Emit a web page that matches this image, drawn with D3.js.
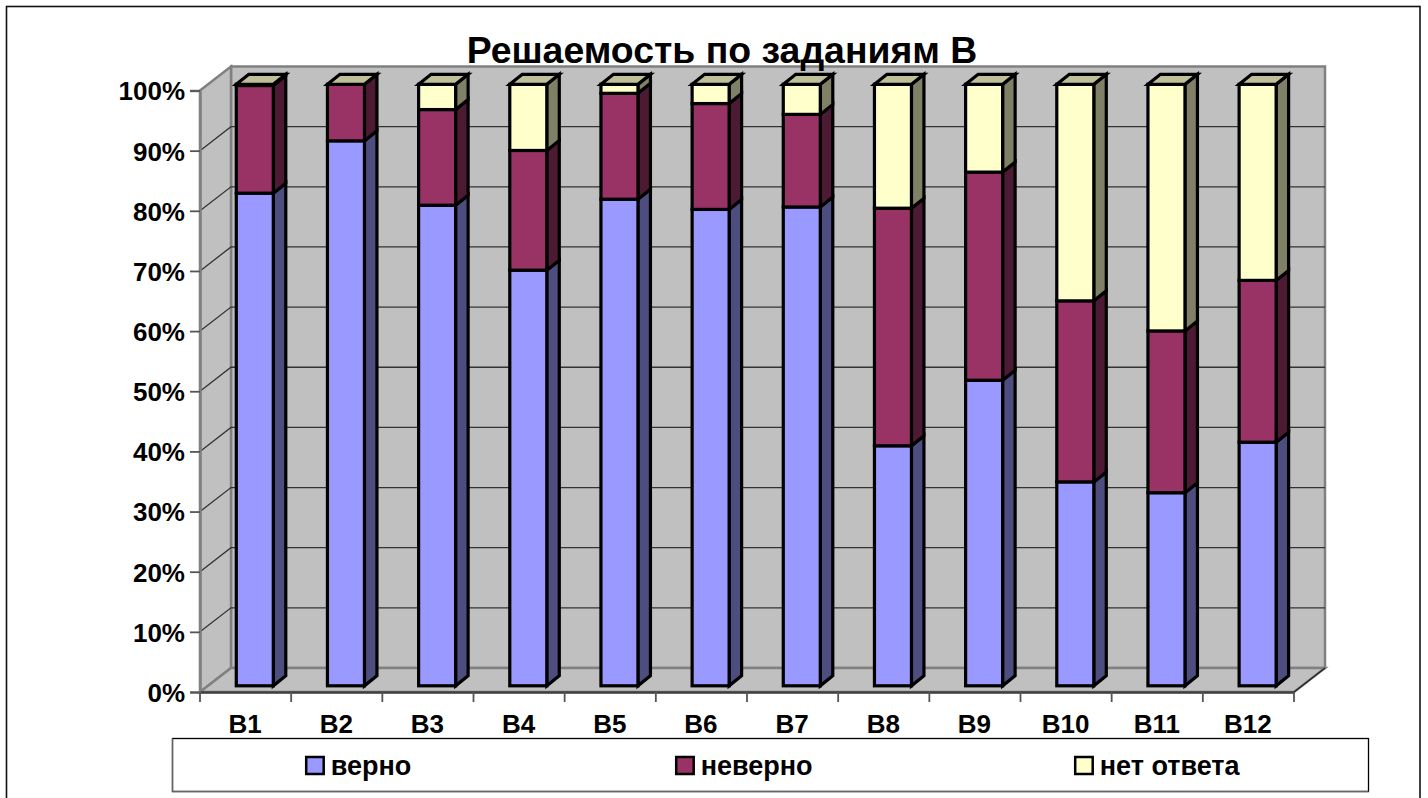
<!DOCTYPE html>
<html>
<head>
<meta charset="utf-8">
<title>Решаемость по заданиям В</title>
<script src="https://d3js.org/d3.v7.min.js"></script>
<style>
	html, body { margin: 0; padding: 0; background: white; overflow: hidden; }
	svg { display: block; }
	text { font-family: "Liberation Sans", Arial, sans-serif; font-weight: bold; fill: black; }
	.axis path { stroke: #808080; stroke-width: 2.5px; }
	.axis line { stroke: #555; stroke-width: 1.8px; }
</style>
</head>
<body>
<script>
// values, percent of answers
var titleText = "Решаемость по заданиям В";
var tasks = ["B1", "B2", "B3", "B4", "B5", "B6", "B7", "B8", "B9", "B10", "B11", "B12"];
var seriesNames = ["верно", "неверно", "нет ответа"];
var correct = [81.9, 90.6, 79.9, 69.1, 80.9, 79.2, 79.6, 39.9, 50.8, 33.9, 32.1, 40.5];
var wrong = [17.9, 9.4, 15.9, 19.9, 17.6, 17.6, 15.4, 39.5, 34.6, 30.1, 26.9, 26.9];
var noAnswer = [0.2, 0, 4.2, 11.0, 1.5, 3.2, 5.0, 20.6, 14.6, 36.0, 41.0, 32.6];
var yTicks = [0, 0.1, 0.2, 0.3, 0.4, 0.5, 0.6, 0.7, 0.8, 0.9, 1];

var front = ["#9999FF", "#993366", "#FFFFCC"];
var side = ["#4D4D80", "#4D1A33", "#808066"];
var topFace = ["#BFBFD9", "#C09AAA", "#BFBF99"];

var plot = { left: 200, right: 1294, top: 90.5, bottom: 692 };
var wall = { dx: 31, dy: -24 };	// back wall offset
var bar = { dx: 12.5, dy: -10, wt: 37, shiftX: 9.2, shiftY: -6.2 };

var svg = d3.select("body").append("svg").attr("width", 1428).attr("height", 798);

// outer frame
svg.append("rect").attr("x", 6.5).attr("y", 6.5).attr("width", 1413.5).attr("height", 800)
	.attr("fill", "white").attr("stroke", "#111").attr("stroke-width", 1.6);

var xscale = d3.scaleBand().domain(tasks).range([plot.left, plot.right]);
var yscale = d3.scaleLinear().domain([0, 1]).range([plot.bottom, plot.top]);

// walls and floor
function poly(pts) { return pts.map(function (p) { return p.join(","); }).join(" "); }

var L = plot.left, R = plot.right, T = plot.top, B = plot.bottom;
svg.append("polygon").attr("fill", "#C0C0C0").attr("stroke", "#808080").attr("stroke-width", 2.5)
	.attr("points", poly([[L + wall.dx, T + wall.dy], [R + wall.dx, T + wall.dy], [R + wall.dx, B + wall.dy], [L + wall.dx, B + wall.dy]]));
svg.append("polygon").attr("fill", "#C0C0C0").attr("stroke", "#808080").attr("stroke-width", 2.5)
	.attr("points", poly([[L, T], [L + wall.dx, T + wall.dy], [L + wall.dx, B + wall.dy], [L, B]]));
svg.append("polygon").attr("fill", "#C0C0C0").attr("stroke", "#808080").attr("stroke-width", 2.5)
	.attr("points", poly([[L, B], [L + wall.dx, B + wall.dy], [R + wall.dx, B + wall.dy], [R, B]]));
svg.append("line").attr("x1", R).attr("y1", B).attr("x2", R + wall.dx).attr("y2", B + wall.dy)
	.attr("stroke", "#222").attr("stroke-width", 1.3);

// gridlines on left and back wall
var gridTicks = yTicks.filter(function (d) { return d > 0 && d < 1; });
var grid = svg.append("g").attr("fill", "none").attr("stroke", "#333").attr("stroke-width", 1.3);
gridTicks.forEach(function (d) {
	var y = yscale(d);
	grid.append("polyline").attr("points", poly([[L, y], [L + wall.dx, y + wall.dy], [R + wall.dx, y + wall.dy]]));
});

// stacked bars
var rows = tasks.map(function (t, i) {
	return { task: t, "верно": correct[i], "неверно": wrong[i], "нет ответа": noAnswer[i] };
});
var stacked = d3.stack().keys(seriesNames).offset(d3.stackOffsetExpand)(rows);

var barG = svg.append("g").attr("stroke", "black").attr("stroke-width", 3.2).attr("stroke-linejoin", "miter");

tasks.forEach(function (t, i) {
	var x0 = xscale(t) + xscale.bandwidth() / 2 - bar.wt / 2 + bar.shiftX;
	var x1 = x0 + bar.wt;
	var oneBar = barG.append("g").attr("class", "bar");
	stacked.forEach(function (s, k) {
		var y0 = yscale(s[i][0]) + bar.shiftY;
		var y1 = yscale(s[i][1]) + bar.shiftY;
		if (y0 - y1 < 0.01) return;
		oneBar.append("polygon").attr("fill", side[k])
			.attr("points", poly([[x1, y1], [x1 + bar.dx, y1 + bar.dy], [x1 + bar.dx, y0 + bar.dy], [x1, y0]]));
	});
	stacked.forEach(function (s, k) {
		var y0 = yscale(s[i][0]) + bar.shiftY;
		var y1 = yscale(s[i][1]) + bar.shiftY;
		if (y0 - y1 < 0.01) return;
		oneBar.append("rect").attr("x", x0).attr("y", y1).attr("width", bar.wt).attr("height", y0 - y1)
			.attr("fill", front[k]);
	});
	// lid takes the colour of the top series
	var yTop = yscale(1) + bar.shiftY;
	oneBar.append("polygon").attr("fill", topFace[2])
		.attr("points", poly([[x0, yTop], [x0 + bar.dx, yTop + bar.dy], [x1 + bar.dx, yTop + bar.dy], [x1, yTop]]));
});

// axes
var yAxis = d3.axisLeft(yscale).tickValues(yTicks).tickFormat(d3.format(".0%")).tickSizeOuter(0).tickSize(10).tickPadding(5);
var gy = svg.append("g").attr("class", "axis").attr("transform", "translate(" + L + ",0)").call(yAxis);
gy.selectAll("text").style("font-size", "26px").attr("dy", "0.36em");

var xAxis = d3.axisBottom(xscale).tickSize(0).tickPadding(23);
var gx = svg.append("g").attr("class", "axis").attr("transform", "translate(0," + B + ")").call(xAxis);
gx.select("path").style("stroke", "#404040");
gx.selectAll("text").style("font-size", "26px").attr("dx", "-0.5px");
// category separators sit between bands
gx.selectAll(".sep").data(tasks.concat(["end"])).enter().append("line").attr("class", "sep")
	.attr("x1", function (d, i) { return L + i * xscale.step(); })
	.attr("x2", function (d, i) { return L + i * xscale.step(); })
	.attr("y1", 0).attr("y2", 10);

// title
svg.append("text").attr("x", 722).attr("y", 63).attr("text-anchor", "middle")
	.style("font-size", "37.4px").text(titleText);

// legend
svg.append("rect").attr("x", 172.5).attr("y", 738.5).attr("width", 1196).attr("height", 53)
	.attr("fill", "white").attr("stroke", "black").attr("stroke-width", 1.3);
svg.append("polyline").attr("fill", "none").attr("stroke", "#666").attr("stroke-width", 1.4)
	.attr("points", poly([[172.5, 738.5], [172.5, 791.5], [1368.5, 791.5]]));
var legendX = [306.2, 676.2, 1075.2];
seriesNames.forEach(function (name, k) {
	var g = svg.append("g").attr("transform", "translate(" + legendX[k] + ",757)");
	g.append("rect").attr("x", 0).attr("y", 0).attr("width", 17.5).attr("height", 17)
		.attr("fill", front[k]).attr("stroke", "black").attr("stroke-width", 2.5);
	g.append("text").attr("x", 24.5).attr("y", 18).style("font-size", "27px").text(name);
});
</script>
</body>
</html>
